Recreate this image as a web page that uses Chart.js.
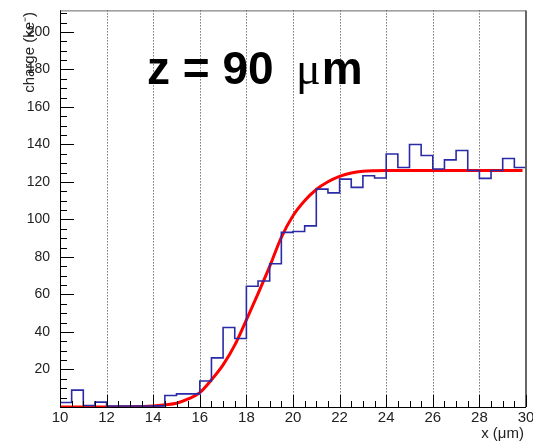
<!DOCTYPE html>
<html>
<head>
<meta charset="utf-8">
<script src="https://cdn.jsdelivr.net/npm/chart.js@4.4.1/dist/chart.umd.min.js"></script>
<style>
  html, body { margin: 0; padding: 0; background: #fff; }
  #wrap { width: 533px; height: 442px; }
</style>
</head>
<body>
<div id="wrap"><canvas id="myChart" width="533" height="442"></canvas></div>
<script>
// histogram bin edges (um) and bin contents (ke-)
const binEdges = [10, 10.5, 11, 11.5, 12, 12.5, 13, 13.5, 14, 14.5,
  15, 15.5, 16, 16.5, 17, 17.5, 18, 18.5, 19, 19.5,
  20, 20.5, 21, 21.5, 22, 22.5, 23, 23.5, 24, 24.5,
  25, 25.5, 26, 26.5, 27, 27.5, 28, 28.5, 29, 29.5, 30];
const binCharge = [2.4, 9.0, 0.8, 2.6, 0.5, 0.5, 0.5, 0.5, 0.6, 6.1,
  7.0, 7.0, 13.9, 26.2, 42.4, 36.5, 64.4, 67.2, 76.4, 93.1,
  93.6, 96.6, 116.2, 114.2, 121.5, 117.1, 123.3, 122.1, 134.9, 127.7,
  140.0, 134.1, 126.9, 131.8, 136.8, 126.1, 121.9, 126.1, 132.5, 127.7];

// fit curve
const fitX = [10, 13, 14, 14.5, 15, 15.5, 16, 16.5, 17, 17.5, 18, 18.5, 19, 19.5,
  20, 20.5, 21, 21.5, 22, 22.5, 23, 23.5, 24, 26, 28, 29.85];
const fitY = [0, 0.2, 0.6, 1.2, 2.0, 4.3, 7.7, 14.5, 22.5, 33, 46.5, 60.5, 75, 90.5,
  102, 110, 116, 120.1, 123, 124.8, 125.7, 126, 126.1, 126.1, 126.1, 126.1];

const xTicks = [10, 12, 14, 16, 18, 20, 22, 24, 26, 28, 30];
const yTicks = [20, 40, 60, 80, 100, 120, 140, 160, 180, 200];

const histPoints = binEdges.map((x, i) => ({ x: x, y: binCharge[Math.min(i, binCharge.length - 1)] }));
const fitPoints = fitX.map((x, i) => ({ x: x, y: fitY[i] }));

const rootStyle = {
  id: 'rootStyle',
  beforeDatasetsDraw(chart) {
    const ctx = chart.ctx, a = chart.chartArea, xs = chart.scales.x;
    ctx.save();
    ctx.strokeStyle = '#333';
    ctx.lineWidth = 1;
    ctx.setLineDash([1, 2]);
    xTicks.slice(1, -1).forEach(v => {
      const px = Math.round(xs.getPixelForValue(v)) + 0.5;
      ctx.beginPath();
      ctx.moveTo(px, a.top);
      ctx.lineTo(px, a.bottom);
      ctx.stroke();
    });
    ctx.restore();
  },
  afterDatasetsDraw(chart) {
    const ctx = chart.ctx, a = chart.chartArea;
    const xs = chart.scales.x, ys = chart.scales.y;
    ctx.save();
    // frame
    ctx.strokeStyle = '#666';
    ctx.lineWidth = 1;
    ctx.beginPath();
    ctx.moveTo(a.left, a.top + 0.5);
    ctx.lineTo(a.right, a.top + 0.5);
    ctx.stroke();
    ctx.lineWidth = 2;
    ctx.beginPath();
    ctx.moveTo(a.right, a.top);
    ctx.lineTo(a.right, a.bottom);
    ctx.stroke();
    ctx.strokeStyle = '#000';
    ctx.lineWidth = 1;
    ctx.beginPath();
    ctx.moveTo(a.left + 0.5, a.top);
    ctx.lineTo(a.left + 0.5, a.bottom + 0.5);
    ctx.lineTo(a.right, a.bottom + 0.5);
    ctx.stroke();
    // ticks
    ctx.beginPath();
    for (let v = 10; v <= 30.001; v += 0.5) {
      const px = Math.round(xs.getPixelForValue(v)) + 0.5;
      const len = (Math.abs(v % 2) < 0.01) ? 12 : 6;
      ctx.moveTo(px, a.bottom);
      ctx.lineTo(px, a.bottom - len);
    }
    for (let v = 0; v <= ys.max; v += 5) {
      const py = Math.round(ys.getPixelForValue(v)) + 0.5;
      const len = (v % 20 === 0) ? 14 : 7;
      ctx.moveTo(a.left, py);
      ctx.lineTo(a.left + len, py);
    }
    ctx.stroke();
    // title
    ctx.fillStyle = '#000';
    ctx.textBaseline = 'alphabetic';
    ctx.textAlign = 'left';
    ctx.font = 'bold 46px "Liberation Sans", Arial, sans-serif';
    ctx.fillText('z = 90', 147, 84);
    ctx.font = '46px "Liberation Serif", serif';
    ctx.fillText('\u03bc', 296, 84);
    const muW = ctx.measureText('\u03bc').width;
    ctx.font = 'bold 46px "Liberation Sans", Arial, sans-serif';
    ctx.fillText('m', 296 + muW + 1, 84);
    // axis titles
    ctx.font = '15px "Liberation Sans", Arial, sans-serif';
    ctx.textAlign = 'right';
    ctx.fillStyle = '#222';
    ctx.fillText('x (\u03bcm)', 524, 438);
    ctx.translate(34, 12);
    ctx.rotate(-Math.PI / 2);
    ctx.fillText('charge (ke\u207b)', 0, 0);
    ctx.restore();
  }
};

new Chart(document.getElementById('myChart'), {
  type: 'line',
  data: {
    datasets: [{
      label: 'charge',
      data: histPoints,
      borderColor: '#2a2aa8',
      borderWidth: 1.6,
      stepped: 'before',
      pointRadius: 0,
      fill: false
    }, {
      label: 'fit',
      data: fitPoints,
      borderColor: '#ff0000',
      borderWidth: 3,
      cubicInterpolationMode: 'monotone',
      pointRadius: 0,
      fill: false
    }]
  },
  plugins: [rootStyle],
  options: {
    responsive: false,
    animation: false,
    layout: { padding: { top: 10, right: 7, left: 0, bottom: 0 } },
    plugins: { legend: { display: false }, tooltip: { enabled: false } },
    scales: {
      x: {
        type: 'linear',
        min: 10,
        max: 30,
        afterFit: s => { s.height = 35; },
        afterBuildTicks: s => { s.ticks = xTicks.map(v => ({ value: v })); },
        grid: { display: false },
        border: { display: false },
        ticks: {
          padding: -6,
          maxRotation: 0,
          autoSkip: false,
          color: '#222',
          font: { family: '"Liberation Sans", Arial, sans-serif', size: 15 }
        }
      },
      y: {
        min: 0,
        max: 211.5,
        afterFit: s => { s.width = 60; },
        afterBuildTicks: s => { s.ticks = yTicks.map(v => ({ value: v })); },
        grid: { display: false },
        border: { display: false },
        ticks: {
          padding: 2,
          autoSkip: false,
          color: '#222',
          font: { family: '"Liberation Sans", Arial, sans-serif', size: 14 }
        }
      }
    }
  }
});
</script>
</body>
</html>
